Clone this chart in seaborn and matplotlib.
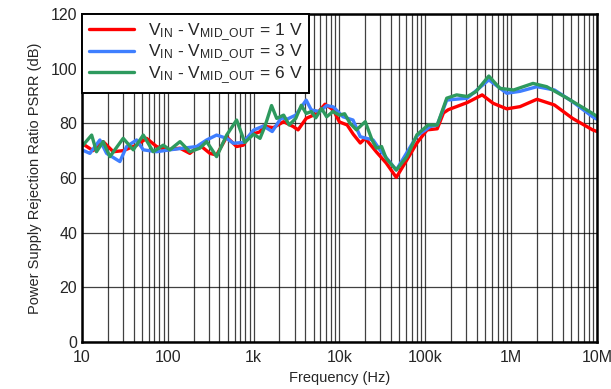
import numpy as np
import pandas as pd
import matplotlib
matplotlib.use("Agg")
import matplotlib.pyplot as plt
import seaborn as sns
from matplotlib.ticker import FixedLocator, LogLocator, NullFormatter

# ---- data ----
series_labels = [
    r"V$_{\mathregular{IN}}$ - V$_{\mathregular{MID\_OUT}}$ = 1 V",
    r"V$_{\mathregular{IN}}$ - V$_{\mathregular{MID\_OUT}}$ = 3 V",
    r"V$_{\mathregular{IN}}$ - V$_{\mathregular{MID\_OUT}}$ = 6 V",
]

freq_1v = [10, 13.5, 17.7, 23.2, 30.3, 43.4, 56.7, 74.2, 97, 139, 181, 237, 310, 371, 486, 635,
           759, 908, 1188, 1300, 1700, 2240, 2900, 3300, 4100, 5500, 6800, 8500, 10000, 12300,
           14500, 17500, 20000, 27000, 35000, 46000, 61000, 80000, 105000, 138000, 163000,
           186000, 309000, 460000, 620000, 890000, 1270000, 2000000, 3200000, 5200000,
           8900000, 10000000]
psrr_1v = [72.7, 70, 73.3, 69.6, 70, 72, 74.5, 71.5, 70.3, 70.9, 69, 72, 69, 68.4, 75, 71.5,
           72, 75.7, 76.9, 79.0, 78.4, 80.6, 78.8, 77.6, 81.8, 83.6, 87.0, 84.9, 80.5, 79.4,
           76, 72.8, 74.5, 69.5, 65.5, 60.2, 66.6, 72.8, 77.6, 78, 83.8,
           85, 87.6, 90.4, 87.3, 85.3, 86.1, 88.8, 86.7, 81.8,
           77.6, 77]

freq_3v = [10, 12.4, 16.2, 19.4, 27.7, 33.2, 43.4, 51.9, 74.2, 106, 152, 217, 284, 371, 486,
           581, 759, 1000, 1300, 1650, 2100, 2450, 3100, 4100, 4700, 5900, 7100, 8500, 11000,
           14400, 17500, 24700, 29600, 46000, 80000, 114000, 138000, 178000, 309000, 550000,
           890000, 1270000, 2000000, 3200000, 5200000, 8900000, 10000000]
psrr_3v = [70.3, 69, 73.9, 69, 66, 71.5, 73.9, 70.3, 69.6, 70.3, 70.9, 71.5, 73.9, 75.7, 74.5,
           72.7, 73, 77.5, 79, 77, 82, 81.5, 83, 88.5, 84.9, 84.3, 86.5, 86, 82.4,
           81.2, 75.1, 73.9, 70.3, 62.9, 75.4, 78.8, 79.4, 88.5, 89.2, 95.9,
           91, 91.7, 93.4, 92.2, 87.9, 82.4, 81.5]

freq_6v = [10, 13, 14.8, 17.7, 21.2, 30.3, 39.7, 51.9, 67.8, 88.7, 106, 139, 181, 237, 284,
           371, 486, 635, 790, 1000, 1190, 1360, 1620, 1860, 2240, 2600, 3100, 3600, 4100, 4700,
           5300, 6200, 7100, 8400, 10000, 11500, 13300, 15800, 20000, 24000, 27000, 31000,
           35000, 46000, 61000, 80000, 108000, 138000, 178000, 232000, 309000, 390000, 550000,
           740000, 1070000, 1800000, 2600000, 4500000, 8900000, 10000000]
psrr_6v = [71.5, 75.7, 69.6, 73.3, 67.8, 74.5, 70.3, 75.7, 69.6, 72, 70.3, 73.3, 69.6, 70.9, 73.3,
           67.8, 75.7, 81.2, 73, 76, 74.5, 79, 86.5, 81.8, 83, 79.4, 81.8, 86.6, 83.6, 84.3,
           82, 85.4, 82.4, 84.3, 83, 83.5, 80, 77.6, 80.6, 73.9, 70.9, 71.5,
           67.2, 62.9, 67.8, 75.8, 79.4, 79.4, 89.2, 90.4, 89.8, 91.6, 97.3,
           92.8, 92.2, 94.6, 93.4, 89.2, 83.6, 82.5]

x_ticks = [10, 100, 1e3, 1e4, 1e5, 1e6, 1e7]
x_tick_labels = ["10", "100", "1k", "10k", "100k", "1M", "10M"]
y_ticks = [0, 20, 40, 60, 80, 100, 120]
colors = ["#FF0000", "#3F7FFF", "#2E9A5E"]

# ---- build long table ----
frames = []
for lab, f, p in zip(series_labels, [freq_1v, freq_3v, freq_6v], [psrr_1v, psrr_3v, psrr_6v]):
    frames.append(pd.DataFrame({"freq": f, "psrr": p, "series": lab}))
df = pd.concat(frames, ignore_index=True)

sns.set_style("white")
plt.rcParams["font.family"] = ["Liberation Sans", "DejaVu Sans"]
plt.rcParams["mathtext.fontset"] = "custom"
plt.rcParams["mathtext.rm"] = "Liberation Sans"
plt.rcParams["mathtext.it"] = "Liberation Sans"

fig = plt.figure(figsize=(6.11, 3.89), dpi=100)
ax = fig.add_axes([0.134, 0.121, 0.843, 0.843])

sns.lineplot(data=df, x="freq", y="psrr", hue="series", palette=colors,
             hue_order=series_labels, sort=False, estimator=None, linewidth=2.4, ax=ax)

ax.set_xscale("log")
ax.set_xlim(10, 1e7)
ax.set_ylim(0, 120)
ax.xaxis.set_major_locator(FixedLocator(x_ticks))
ax.set_xticklabels(x_tick_labels)
ax.xaxis.set_minor_locator(LogLocator(base=10, subs=np.arange(2, 10)))
ax.xaxis.set_minor_formatter(NullFormatter())
ax.set_yticks(y_ticks)

ax.grid(True, which="major", axis="both", color="black", linewidth=0.9, alpha=0.75)
ax.grid(True, which="minor", axis="x", color="black", linewidth=0.9, alpha=0.75)
ax.set_axisbelow(True)

for s in ax.spines.values():
    s.set_visible(True)
    s.set_color("black")
    s.set_linewidth(1.8)

ax.tick_params(axis="both", which="major", labelsize=11.5, direction="in", length=4, color="black")
ax.tick_params(axis="x", which="minor", direction="in", length=2.5, color="black")
ax.tick_params(axis="x", pad=6)

ax.set_xlabel("Frequency (Hz)", fontsize=10.5, labelpad=4)
ax.set_ylabel("Power Supply Rejection Ratio PSRR (dB)", fontsize=10.5, labelpad=6)

leg = ax.legend(loc="upper left", fontsize=12.5, frameon=True, fancybox=False,
                edgecolor="black", framealpha=1, borderaxespad=0.0, handlelength=2.6,
                labelspacing=0.0, borderpad=0.4, handletextpad=0.8)
leg.get_frame().set_linewidth(1.4)

fig.savefig("out.png", dpi=100)
